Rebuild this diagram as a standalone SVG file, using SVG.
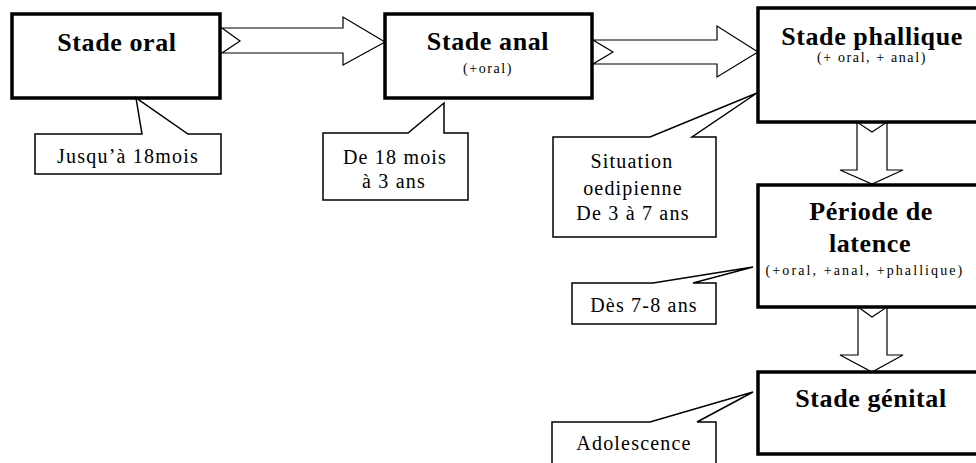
<svg xmlns="http://www.w3.org/2000/svg" width="976" height="463" viewBox="0 0 976 463">
<style>
.box{fill:#fff;stroke:#000;stroke-width:3.5}
.call{fill:#fff;stroke:#000;stroke-width:1.5}
.arr{fill:#fff;stroke:#000;stroke-width:1.2}
.t{font-family:"Liberation Serif","Times New Roman",serif;fill:#000;text-anchor:middle}
.h{font-size:26px;font-weight:bold;letter-spacing:0.6px}
.s{font-size:14px;letter-spacing:1.6px}
.c{font-size:20px;letter-spacing:1.2px}
</style>
<rect width="976" height="463" fill="#fff"/>
<g id="connectors">
<path class="arr" d="M222,28 L343,28 L343,17 L385,42 L343,65 L343,53 L222,53 L240,41 Z"/>
<path class="arr" d="M593,40 L717,40 L717,26 L758,52 L717,77 L717,64 L593,64 L613,52 Z"/>
<path class="arr" d="M857,122 L857,170 L840,170 L872,184 L903,170 L887,170 L887,122 L872,132 Z"/>
<path class="arr" d="M858,307 L858,355 L840,355 L872,372 L903,355 L887,355 L887,307 L872,317 Z"/>
</g>
<g id="oral">
<rect class="box" x="12" y="14" width="208" height="84"/>
<text class="t h" x="117" y="51">Stade oral</text>
</g>
<g id="anal">
<rect class="box" x="385" y="14" width="207" height="84"/>
<text class="t h" x="488" y="50">Stade anal</text>
<text class="t s" x="488" y="73">(+oral)</text>
</g>
<g id="phallique">
<rect class="box" x="758" y="8" width="230" height="114"/>
<text class="t h" x="872" y="45">Stade phallique</text>
<text class="t s" x="872" y="62">(+ oral, + anal)</text>
</g>
<g id="latence">
<rect class="box" x="758" y="185" width="230" height="122"/>
<text class="t h" x="871" y="220">Période de</text>
<text class="t h" x="870" y="252">latence</text>
<text class="t s" x="865" y="275" style="letter-spacing:2.1px">(+oral, +anal, +phallique)</text>
</g>
<g id="genital">
<rect class="box" x="758" y="372" width="230" height="82"/>
<text class="t h" x="871" y="407">Stade génital</text>
</g>
<g id="callout-oral">
<path class="call" d="M35,134 L142,134 L136,98 L188,134 L221,134 L221,174 L35,174 Z"/>
<text class="t c" x="128" y="163">Jusqu’à 18mois</text>
</g>
<g id="callout-anal">
<path class="call" d="M323,133 L408,133 L444,103 L444,133 L468,133 L468,200 L323,200 Z"/>
<text class="t c" x="395" y="164">De 18 mois</text>
<text class="t c" x="394" y="188">à 3 ans</text>
</g>
<g id="callout-phallique">
<path class="call" d="M553,137 L650,137 L757,93 L692,137 L716,137 L716,237 L553,237 Z"/>
<text class="t c" x="632" y="168">Situation</text>
<text class="t c" x="633" y="195">oedipienne</text>
<text class="t c" x="633" y="220">De 3 à 7 ans</text>
</g>
<g id="callout-latence">
<path class="call" d="M572,283 L653,283 L753,267 L693,283 L716,283 L716,324 L572,324 Z"/>
<text class="t c" x="644" y="312">Dès 7-8 ans</text>
</g>
<g id="callout-genital">
<path class="call" d="M552,422 L650,422 L753,392 L697,422 L716,422 L716,475 L552,475 Z"/>
<text class="t c" x="634" y="450">Adolescence</text>
</g>
</svg>
